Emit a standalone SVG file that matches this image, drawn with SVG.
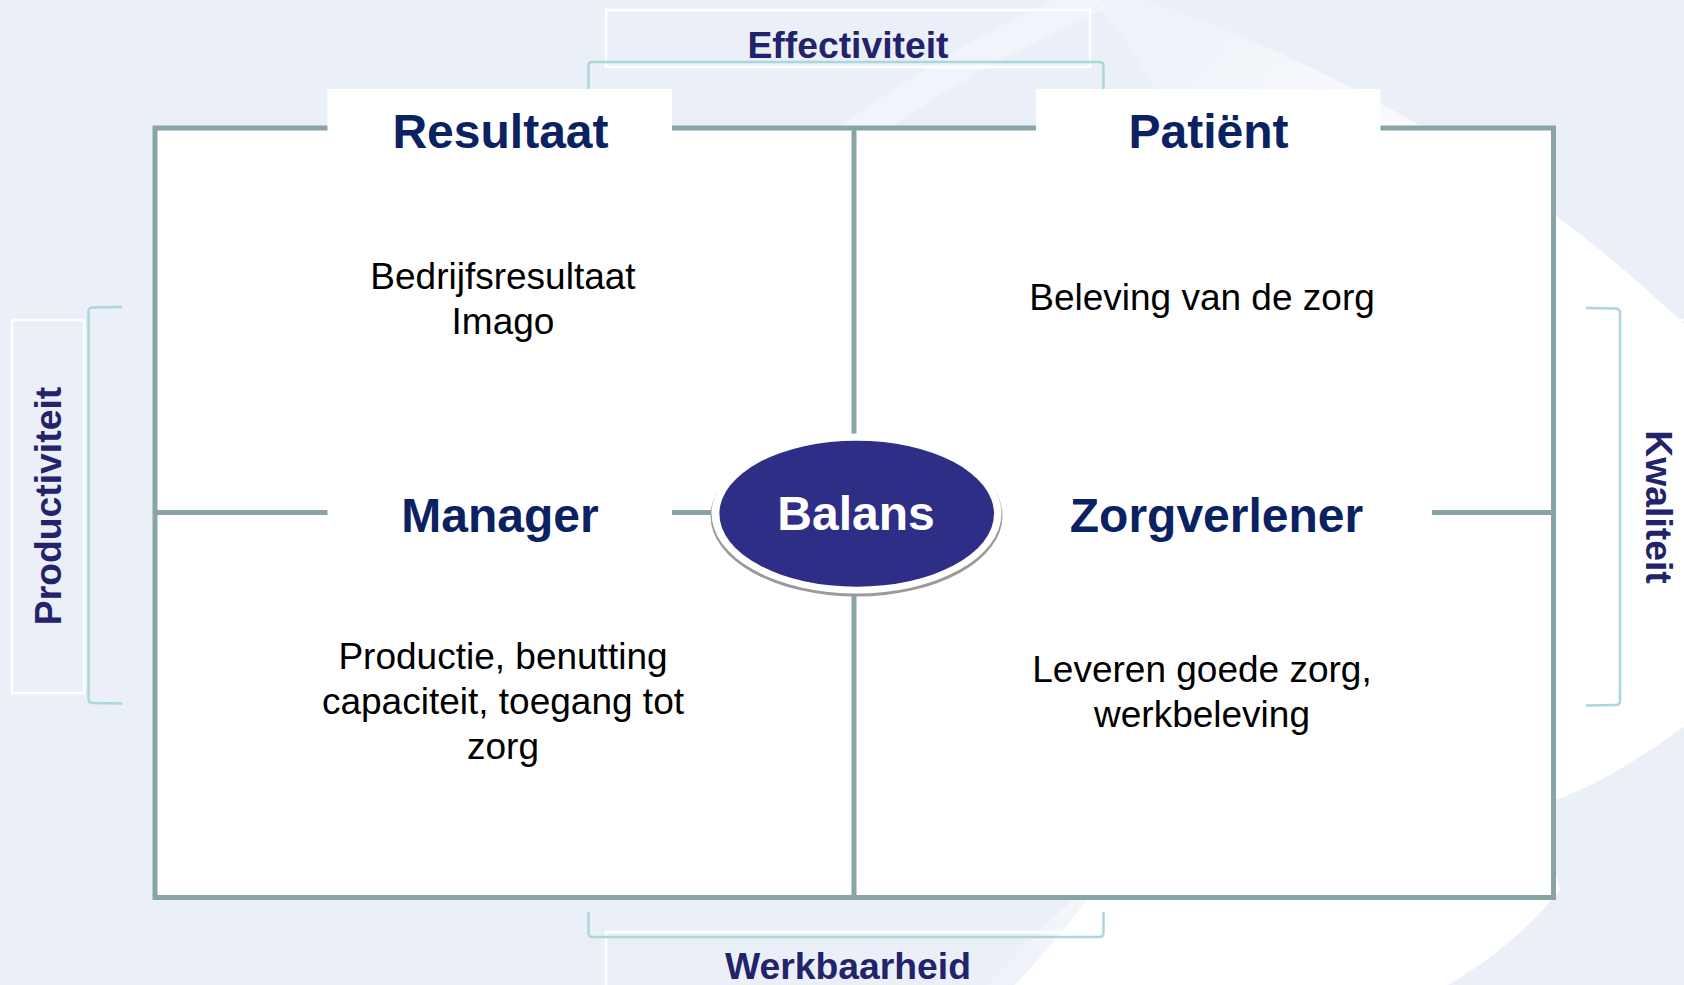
<svg xmlns="http://www.w3.org/2000/svg" width="1684" height="985" viewBox="0 0 1684 985">
<defs>
<linearGradient id="swg" gradientUnits="userSpaceOnUse" x1="1180" y1="0" x2="1480" y2="260">
<stop offset="0" stop-color="#ffffff" stop-opacity="0.15"/>
<stop offset="1" stop-color="#ffffff" stop-opacity="1"/>
</linearGradient>
<linearGradient id="swb" gradientUnits="userSpaceOnUse" x1="1000" y1="980" x2="1200" y2="900">
<stop offset="0" stop-color="#ffffff" stop-opacity="0.3"/>
<stop offset="1" stop-color="#ffffff" stop-opacity="1"/>
</linearGradient>
</defs>
<style>
.bg{fill:#EBF0F8}
.frame{fill:#ffffff;stroke:#89A4A7;stroke-width:5}
.div{fill:none;stroke:#89A4A7;stroke-width:5}
.brk{fill:none;stroke:#A9D7DB;stroke-width:2.5}
.lbox{fill:none;stroke:#ffffff;stroke-width:2.5}
.tbox{fill:#ffffff}
.side{font-family:"Liberation Sans",Arial,sans-serif;font-weight:bold;font-size:37.3px;fill:#23236B;text-anchor:middle}
.title{font-family:"Liberation Sans",Arial,sans-serif;font-weight:bold;font-size:48px;fill:#0B2262;text-anchor:middle}
.body{font-family:"Liberation Sans",Arial,sans-serif;font-size:37px;fill:#000000;text-anchor:middle}
.bal{font-family:"Liberation Sans",Arial,sans-serif;font-weight:bold;font-size:48px;fill:#ffffff;text-anchor:middle}
</style>
<rect class="bg" x="0" y="0" width="1684" height="985"/>
<path d="M 1130 -5 C 1300 50 1520 160 1700 340 L 1700 715 C 1640 760 1590 790 1540 805 L 1560 890 C 1520 940 1470 975 1420 1000 L 1000 1000 C 1150 850 1250 650 1250 450 C 1250 250 1170 90 1090 -5 Z" fill="url(#swg)"/>
<path d="M 820 160 Q 950 60 1100 -5" fill="none" stroke="#ffffff" stroke-opacity="0.3" stroke-width="30"/>
<path d="M 1000 1000 C 1060 940 1090 910 1120 880" fill="none" stroke="url(#swb)" stroke-width="40" stroke-opacity="0.6"/>

<g id="label-effectiviteit">
<rect class="lbox" x="606" y="10" width="484" height="57"/>
<text class="side" x="848" y="58">Effectiviteit</text>
</g>
<g id="label-werkbaarheid">
<rect class="lbox" x="606" y="932" width="484" height="70"/>
<text class="side" x="848" y="979">Werkbaarheid</text>
</g>
<g id="label-productiviteit">
<rect class="lbox" x="12" y="320" width="72" height="373"/>
<text class="side" transform="translate(60.5 506) rotate(-90)" x="0" y="0">Productiviteit</text>
</g>
<g id="label-kwaliteit">
<rect class="lbox" x="1628" y="320" width="72" height="373"/>
<text class="side" transform="translate(1645.5 507) rotate(90)" x="0" y="0">Kwaliteit</text>
</g>

<g id="brackets">
<path class="brk" d="M 588.5 100 L 588.5 66 Q 588.5 62 592.5 62 L 1099.5 62 Q 1103.5 62 1103.5 66 L 1103.5 100"/>
<path class="brk" d="M 588.5 912 L 588.5 933 Q 588.5 937 592.5 937 L 1099.5 937 Q 1103.5 937 1103.5 933 L 1103.5 912"/>
<path class="brk" d="M 122 307 L 92 307.5 Q 88.5 308 88.5 311.5 L 88.5 699 Q 88.5 703 92.5 703 L 122 703.5"/>
<path class="brk" d="M 1586 308 L 1616 308.5 Q 1620 309 1620 312.5 L 1620 701 Q 1620 705 1616 705 L 1586 705.5"/>
</g>

<g id="frame">
<rect class="frame" x="155" y="128" width="1398.5" height="769.5"/>
</g>
<g id="connectors">
<line class="div" x1="854" y1="128" x2="854" y2="897.5"/>
<line class="div" x1="155" y1="512.5" x2="1553.5" y2="512.5"/>
</g>

<g id="node-resultaat">
<rect class="tbox" x="327.5" y="89" width="344.5" height="90"/>
<text class="title" x="500.5" y="148">Resultaat</text>
<text class="body" x="503" y="289">Bedrijfsresultaat</text>
<text class="body" x="503" y="334">Imago</text>
</g>
<g id="node-patient">
<rect class="tbox" x="1036" y="89" width="344.5" height="90"/>
<text class="title" x="1208.5" y="148">Patiënt</text>
<text class="body" x="1202" y="310">Beleving van de zorg</text>
</g>
<g id="node-manager">
<rect class="tbox" x="327.5" y="472" width="344.5" height="80"/>
<text class="title" x="500" y="532">Manager</text>
<text class="body" x="503" y="669">Productie, benutting</text>
<text class="body" x="503" y="714">capaciteit, toegang tot</text>
<text class="body" x="503" y="759">zorg</text>
</g>
<g id="node-zorgverlener">
<rect class="tbox" x="1002" y="472" width="430" height="80"/>
<text class="title" x="1216.5" y="532">Zorgverlener</text>
<text class="body" x="1202" y="682">Leveren goede zorg,</text>
<text class="body" x="1202" y="727">werkbeleving</text>
</g>
<g id="node-balans">
<ellipse cx="856.5" cy="516" rx="146" ry="80.5" fill="#9a9a9a"/>
<ellipse cx="856.5" cy="513.5" rx="145" ry="80" fill="#ffffff"/>
<ellipse cx="856.7" cy="513.7" rx="137.3" ry="73" fill="#2F2E87"/>
<text class="bal" x="856" y="530">Balans</text>
</g>
</svg>
